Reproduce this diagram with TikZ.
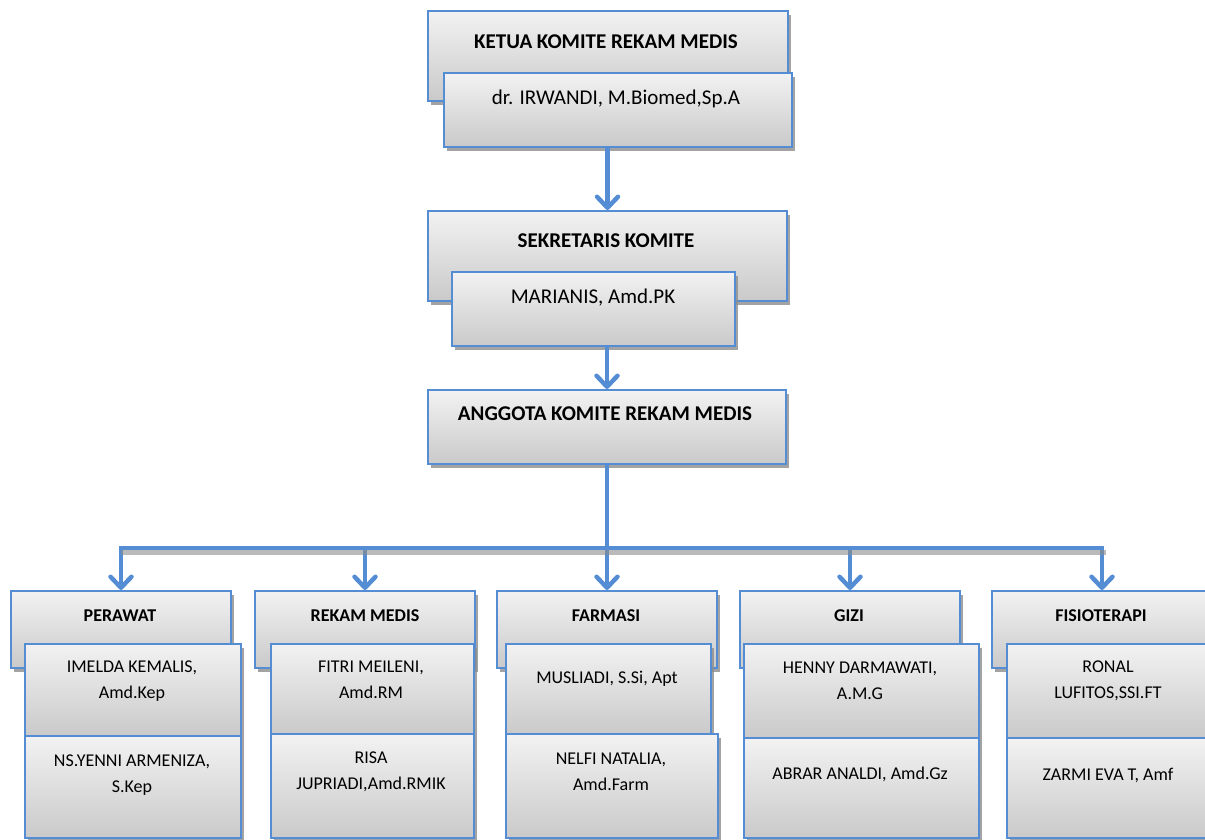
\documentclass[tikz,border=0pt]{standalone}
\usepackage{fontspec}
\setmainfont{Carlito}
\usetikzlibrary{arrows.meta,shadows,calc}
\definecolor{edgeblue}{RGB}{84,141,212}
\definecolor{shadowgray}{RGB}{140,140,140}
\tikzset{
  box/.style={draw=edgeblue, line width=2pt, top color=gray!10, bottom color=gray!42,
    anchor=north west, inner sep=0pt,
    drop shadow={shadow xshift=3pt, shadow yshift=-4pt, fill=shadowgray, opacity=0.8}},
  headtext/.style={anchor=base, inner sep=0pt, font=\fontsize{21}{25}\selectfont\bfseries},
  leadtext/.style={anchor=base, inner sep=0pt, font=\fontsize{21}{25}\selectfont},
  depttext/.style={anchor=base, inner sep=0pt, font=\fontsize{18}{26}\selectfont\bfseries},
  % base anchor of a multi-line node sits on its last line
  persontext/.style={anchor=base, inner sep=0pt, align=center, font=\fontsize{18}{26}\selectfont},
  conn/.style={draw=edgeblue, line width=4.5pt},
  flow/.style={conn, -{Straight Barb[length=11pt,width=21pt,round]}},
}
\begin{document}
\begin{tikzpicture}[x=1pt,y=-1pt]
\clip (0,0) rectangle (1205,840);

% chairman
\node[box, minimum width=360pt, minimum height=90pt] (ketua) at (427,10) {};
\node[box, minimum width=348pt, minimum height=74pt] (irwandi) at (443,72) {};
\node[headtext] (ketuaT) at (606,49) {KETUA KOMITE REKAM MEDIS};
\node[leadtext] (irwandiT) at (616,105) {dr. IRWANDI, M.Biomed,Sp.A};

% secretary
\node[box, minimum width=359pt, minimum height=90pt] (sek) at (427,210) {};
\node[box, minimum width=283pt, minimum height=74pt] (marianis) at (451,271) {};
\node[headtext] (sekT) at (606,247) {SEKRETARIS KOMITE};
\node[leadtext] (marianisT) at (593,303) {MARIANIS, Amd.PK};

% members
\node[box, minimum width=358pt, minimum height=74pt] (ang) at (427,389) {};
\node[headtext] (angT) at (605,420) {ANGGOTA KOMITE REKAM MEDIS};

% departments
\node[box, minimum width=220pt, minimum height=77pt] (perawat) at (10,590) {};
\node[box, minimum width=216pt, minimum height=92pt] (perawat1) at (24,643) {};
\node[box, minimum width=216pt, minimum height=102pt] (perawat2) at (24,735) {};
\node[depttext] (perawatT) at (120,621) {PERAWAT};
\node[persontext] (perawat1T) at (132,698) {IMELDA KEMALIS,\\Amd.Kep};
\node[persontext] (perawat2T) at (132,792) {NS.YENNI ARMENIZA,\\S.Kep};

\node[box, minimum width=220pt, minimum height=77pt] (rm) at (254,590) {};
\node[box, minimum width=203pt, minimum height=90pt] (rm1) at (270,643) {};
\node[box, minimum width=203pt, minimum height=104pt] (rm2) at (270,733) {};
\node[depttext] (rmT) at (365,621) {REKAM MEDIS};
\node[persontext] (rm1T) at (371,698) {FITRI MEILENI,\\Amd.RM};
\node[persontext] (rm2T) at (371,789) {RISA\\JUPRIADI,Amd.RMIK};

\node[box, minimum width=220pt, minimum height=77pt] (farm) at (496,590) {};
\node[box, minimum width=205pt, minimum height=90pt] (farm1) at (505,643) {};
\node[box, minimum width=212pt, minimum height=104pt] (farm2) at (505,733) {};
\node[depttext] (farmT) at (606,621) {FARMASI};
\node[persontext] (farm1T) at (607,683) {MUSLIADI, S.Si, Apt};
\node[persontext] (farm2T) at (611,790) {NELFI NATALIA,\\Amd.Farm};

\node[box, minimum width=220pt, minimum height=77pt] (gizi) at (739,590) {};
\node[box, minimum width=235pt, minimum height=94pt] (gizi1) at (743,643) {};
\node[box, minimum width=235pt, minimum height=100pt] (gizi2) at (743,737) {};
\node[depttext] (giziT) at (849,621) {GIZI};
\node[persontext] (gizi1T) at (860,699) {HENNY DARMAWATI,\\A.M.G};
\node[persontext] (gizi2T) at (860,779) {ABRAR ANALDI, Amd.Gz};

\node[box, minimum width=220pt, minimum height=77pt] (fisio) at (991,590) {};
\node[box, minimum width=205pt, minimum height=94pt] (fisio1) at (1006,643) {};
\node[box, minimum width=205pt, minimum height=100pt] (fisio2) at (1006,737) {};
\node[depttext] (fisioT) at (1101,621) {FISIOTERAPI};
\node[persontext] (fisio1T) at (1108,698) {RONAL\\LUFITOS,SSI.FT};
\node[persontext] (fisio2T) at (1108,780) {ZARMI EVA T, Amf};

% connectors
\draw[flow] (irwandi.south -| sek.north) -- (sek.north);
\draw[flow] (marianis.south -| ang.north) -- (ang.north);

\coordinate (barL) at (perawat.north |- 0,548);
\coordinate (barR) at (fisio.north |- 0,548);
\draw[flow] (ang.south) -- (farm.north);
\draw[flow] (barL) -- (perawat.north);
\draw[flow] (rm.north |- barL) -- (rm.north);
\draw[flow] (gizi.north |- barL) -- (gizi.north);
\draw[flow] (barR) -- (fisio.north);
\draw[line width=4.5pt, shadowgray, opacity=0.6, line cap=rect]
  ([xshift=2pt,yshift=-4.5pt]barL) -- ([xshift=2pt,yshift=-4.5pt]barR);
\draw[conn, line cap=rect] (barL) -- (barR);
\end{tikzpicture}
\end{document}
